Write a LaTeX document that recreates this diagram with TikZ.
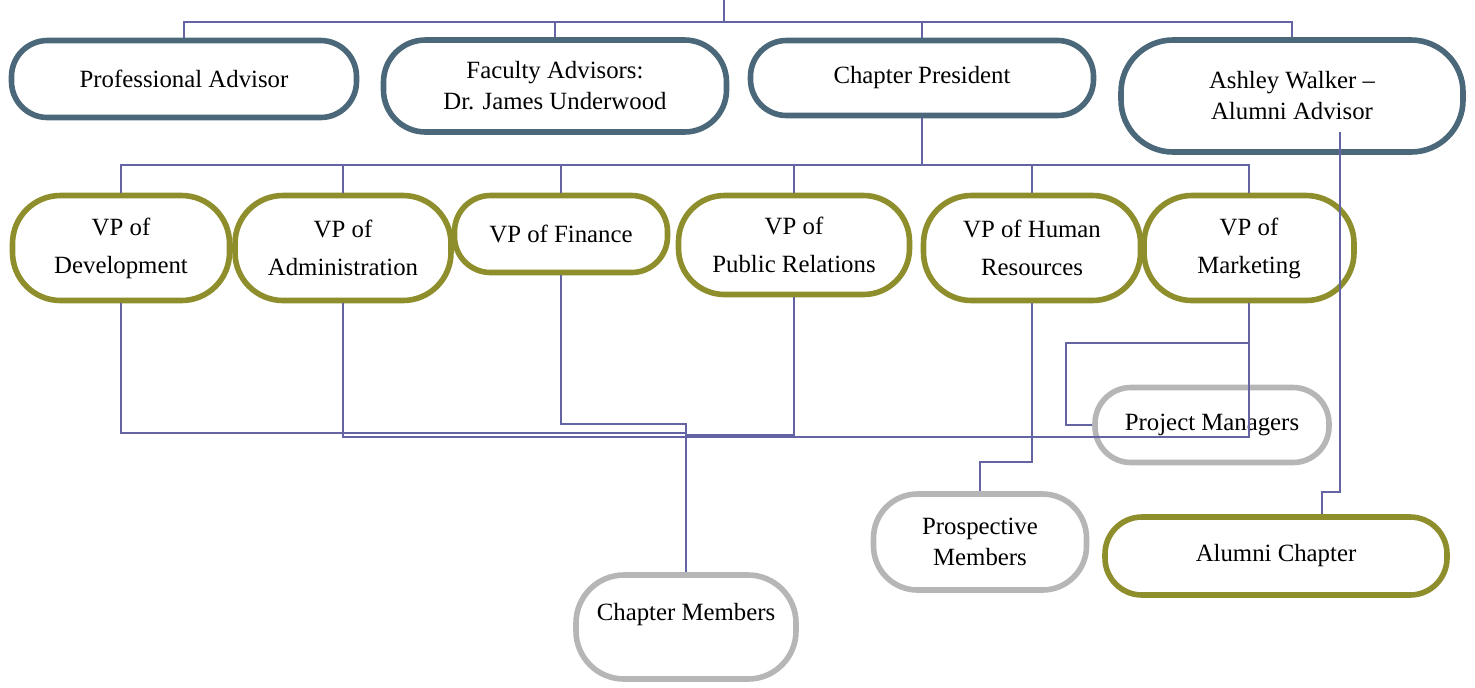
\documentclass[tikz,border=0pt]{standalone}
\usepackage{fontspec}
\setmainfont{Liberation Serif}
\usepackage{tikz}
\usetikzlibrary{calc}
\definecolor{advblue}{RGB}{74,104,122}
\definecolor{vpolive}{RGB}{143,142,44}
\definecolor{memgray}{RGB}{182,182,182}
\definecolor{linkblue}{RGB}{100,100,165}

\begin{document}
\begin{tikzpicture}[x=0.5pt, y=-0.5pt,
	box/.style={draw, fill=white, line width=2.8pt, rounded corners=18pt, inner sep=0pt, align=center, text=black, font=\fontsize{12.4}{15.5}\selectfont},
	advbox/.style={box, draw=advblue},
	vpbox/.style={box, draw=vpolive, rounded corners=24pt, font=\fontsize{12.4}{19}\selectfont},
	grpbox/.style={box, draw=memgray},
	link/.style={draw=linkblue, line width=0.8pt}]
			%%%%% START %%%%%
			
			\fill[white] (0, 0) rectangle (1475, 687);
			\useasboundingbox (0, 0) rectangle (1475, 687);
			
			% advisors and president
			\node[advbox, minimum width=172.5pt, minimum height=38.5pt] (prof) at (184, 79) {Professional Advisor};
			\node[advbox, minimum width=171.5pt, minimum height=46pt, rounded corners=21pt] (faculty) at (555, 86) {Faculty Advisors:\\Dr. James Underwood};
			\node[advbox, minimum width=171.5pt, minimum height=37.5pt] (pres) at (922, 78) {Chapter President};
			\node[advbox, minimum width=171pt, minimum height=56pt, rounded corners=26pt] (ashley) at (1292, 96) {Ashley Walker --\\Alumni Advisor};
			
			% vice presidents
			\node[vpbox, minimum width=108.5pt, minimum height=52.5pt] (dev) at (121, 248) {VP of\\Development};
			\node[vpbox, minimum width=108pt, minimum height=52.5pt] (admin) at (343, 248) {VP of\\Administration};
			\node[vpbox, minimum width=106.5pt, minimum height=38.5pt, rounded corners=18pt] (fin) at (561, 234) {VP of Finance};
			\node[vpbox, minimum width=115.5pt, minimum height=49.5pt, rounded corners=23pt] (pr) at (794, 245) {VP of\\Public Relations};
			\node[vpbox, minimum width=108.5pt, minimum height=52.5pt] (hr) at (1032, 248) {VP of Human\\Resources};
			\node[vpbox, minimum width=105pt, minimum height=52.5pt] (mkt) at (1249, 248) {VP of\\Marketing};
			
			% groups
			\node[grpbox, minimum width=117pt, minimum height=37.5pt] (pm) at (1212, 425) {Project Managers};
			\node[grpbox, minimum width=106.5pt, minimum height=48pt, rounded corners=22pt] (prosp) at (980, 542) {Prospective\\Members};
			\node[vpbox, minimum width=171pt, minimum height=39pt, rounded corners=18.5pt, font=\fontsize{12.4}{15.5}\selectfont] (alumni) at (1276, 556) {Alumni Chapter};
			\node[grpbox, minimum width=110pt, minimum height=52pt, rounded corners=24pt, text depth=15pt] (members) at (686, 627) {Chapter Members};
			
			% top bus
			\coordinate (top) at (724, 0);
			\coordinate (bus1) at (724, 22);
			\draw[link] (top) -- (bus1);
			\foreach \n in {prof, faculty, pres, ashley}
				\draw[link] (bus1) -| (\n.north);
			
			% president to vps
			\coordinate (bus2) at (922, 165);
			\draw[link] (pres.south) -- (bus2);
			\foreach \n in {dev, admin, fin, pr, hr, mkt}
				\draw[link] (bus2) -| (\n.north);
			
			% vps to members
			\draw[link] (dev.south) -- (dev.south |- 0,433) -| (members.north);
			\draw[link] (admin.south) -- (admin.south |- 0,437) -| (members.north);
			\draw[link] (fin.south) -- (fin.south |- 0,424) -| (members.north);
			\draw[link] (pr.south) -- (pr.south |- 0,435) -| (members.north);
			\draw[link] (mkt.south) -- (mkt.south |- 0,437) -| (members.north);
			
			\draw[link] (hr.south) -- (hr.south |- 0,462) -| (prosp.north);
			\draw[link] (mkt.south) -- (mkt.south |- 0,343) -| ($(pm.west)+(-26,0)$) -- (pm.west);
			\draw[link] ($(ashley.south)+(48,-23)$) |- ($(alumni.north)+(46,-22)$) -- ($(alumni.north)+(46,0)$);
			
			%%%%% END %%%%%
		\end{tikzpicture}
\end{document}
